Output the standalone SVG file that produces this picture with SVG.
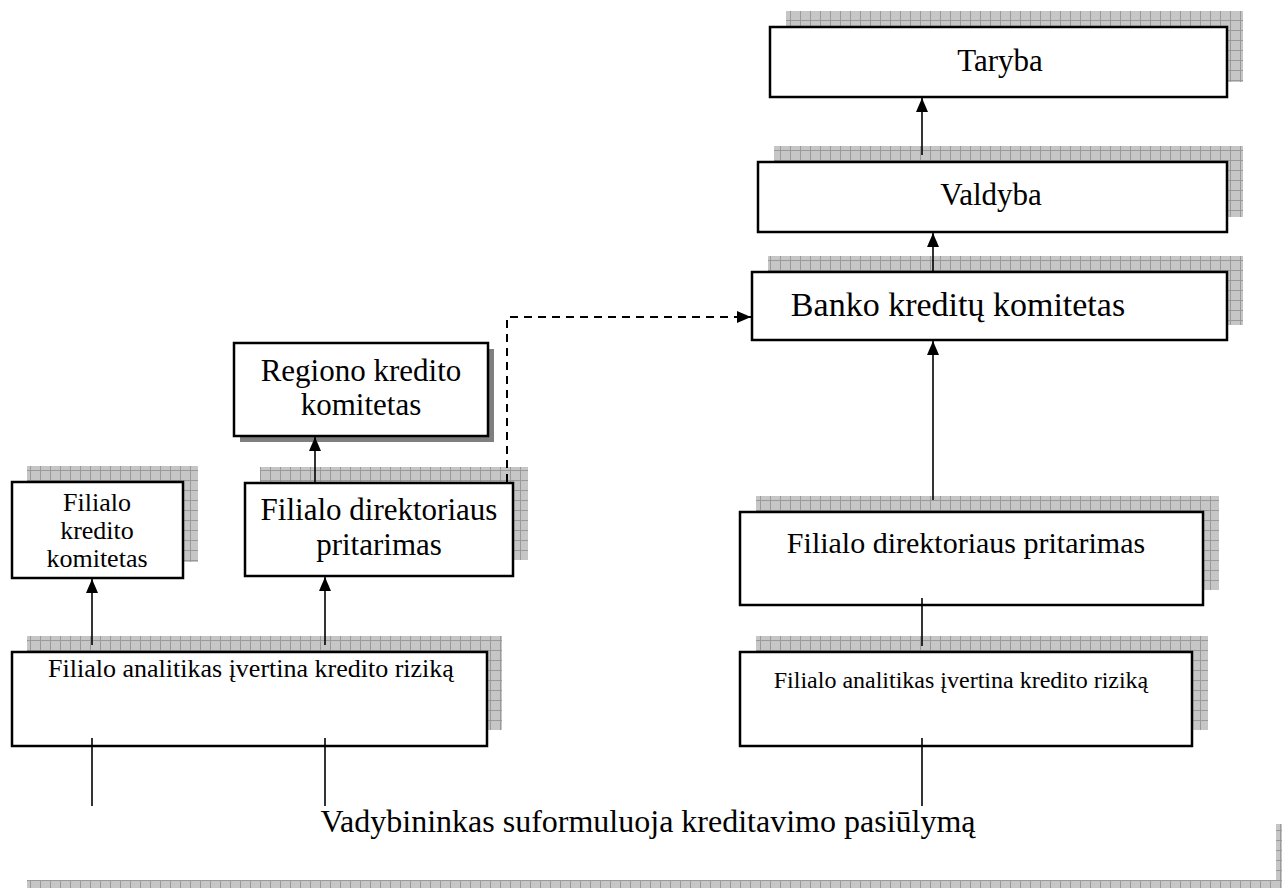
<svg xmlns="http://www.w3.org/2000/svg" width="1282" height="888" viewBox="0 0 1282 888">
  <style>
    .box { fill: #ffffff; stroke: #000000; stroke-width: 2.5; }
    .shadow { fill: url(#grid); }
    .solid-shadow { fill: #7f7f7f; }
    .lbl { font-family: "Liberation Serif", "Times New Roman", serif; fill: #000000; text-anchor: middle; }
    .big { font-size: 31px; }
    .small { font-size: 25px; }
    .line { stroke: #000000; stroke-width: 1.6; fill: none; }
    .arrow { stroke: #000000; stroke-width: 1.6; fill: none; marker-end: url(#ah); }
    .dash { stroke: #000000; stroke-width: 2; fill: none; stroke-dasharray: 8 6; marker-end: url(#ah); }
  </style>
  <defs>
    <!-- hatched grid fill used for the offset shadows -->
    <pattern id="grid" width="10" height="10" patternUnits="userSpaceOnUse">
      <rect width="10" height="10" fill="#c6c6c6"/>
      <path d="M0,0.5 H10 M0.5,0 V10" stroke="#9a9a9a" stroke-width="1"/>
    </pattern>
    <marker id="ah" viewBox="0 0 14 12" refX="14" refY="6" markerWidth="14" markerHeight="12" orient="auto" markerUnits="userSpaceOnUse">
      <path d="M0,0 L14,6 L0,12 Z" fill="#000000"/>
    </marker>
  </defs>

  <rect width="1282" height="888" fill="#ffffff"/>

  <g id="taryba">
    <rect class="shadow" x="786" y="11" width="457" height="71"/>
    <rect class="box" x="770" y="27" width="457" height="70"/>
    <text class="lbl big" x="1000" y="71">Taryba</text>
  </g>

  <g id="valdyba">
    <rect class="shadow" x="774" y="146" width="469" height="71"/>
    <rect class="box" x="758" y="162" width="469" height="70"/>
    <text class="lbl big" x="991" y="205">Valdyba</text>
  </g>

  <g id="banko-komitetas">
    <rect class="shadow" x="768" y="256" width="475" height="69"/>
    <rect class="box" x="752" y="272" width="475" height="68"/>
    <text class="lbl" style="font-size:34px" x="958" y="316">Banko kreditų komitetas</text>
  </g>

  <g id="regiono-komitetas">
    <rect class="solid-shadow" x="240" y="349" width="254" height="93"/>
    <rect class="box" x="234" y="343" width="254" height="93"/>
    <text class="lbl big" x="361" y="381">Regiono kredito</text>
    <text class="lbl big" x="361" y="415">komitetas</text>
  </g>

  <g id="filialo-komitetas">
    <rect class="shadow" x="27" y="466" width="171" height="96"/>
    <rect class="box" x="12" y="482" width="171" height="96"/>
    <text class="lbl" style="font-size:26px" x="97" y="511">Filialo</text>
    <text class="lbl" style="font-size:26px" x="97" y="539">kredito</text>
    <text class="lbl" style="font-size:26px" x="97" y="567">komitetas</text>
  </g>

  <g id="direktorius-kaire">
    <rect class="shadow" x="260" y="467" width="268" height="93"/>
    <rect class="box" x="245" y="483" width="268" height="93"/>
    <text class="lbl big" x="379" y="520">Filialo direktoriaus</text>
    <text class="lbl big" x="379" y="555">pritarimas</text>
  </g>

  <g id="analitikas-kaire">
    <rect class="shadow" x="27" y="636" width="475" height="94"/>
    <rect class="box" x="12" y="652" width="475" height="94"/>
    <text class="lbl" style="font-size:26px" x="251" y="677">Filialo analitikas įvertina kredito riziką</text>
  </g>

  <g id="direktorius-desine">
    <rect class="shadow" x="756" y="496" width="463" height="94"/>
    <rect class="box" x="740" y="512" width="463" height="93"/>
    <text class="lbl" style="font-size:30px" x="966" y="553">Filialo direktoriaus pritarimas</text>
  </g>

  <g id="analitikas-desine">
    <rect class="shadow" x="756" y="636" width="452" height="94"/>
    <rect class="box" x="740" y="652" width="452" height="94"/>
    <text class="lbl" style="font-size:24px" x="961" y="688">Filialo analitikas įvertina kredito riziką</text>
  </g>

  <g id="vadybininkas">
    <rect class="shadow" x="27" y="880" width="1255" height="8"/>
    <rect class="shadow" x="1276" y="824" width="6" height="64"/>
    <text class="lbl" style="font-size:32px" x="648" y="832">Vadybininkas suformuluoja kreditavimo pasiūlymą</text>
  </g>

  <g id="connectors">
    <!-- left branch -->
    <line class="line" x1="92" y1="738" x2="92" y2="806"/>
    <line class="line" x1="325" y1="738" x2="325" y2="806"/>
    <line class="arrow" x1="92" y1="645" x2="92" y2="579"/>
    <line class="arrow" x1="325" y1="645" x2="325" y2="577"/>
    <line class="arrow" x1="315" y1="483" x2="315" y2="437"/>
    <polyline class="dash" points="507,482 507,317 751,317"/>
    <!-- right branch -->
    <line class="line" x1="922" y1="738" x2="922" y2="806"/>
    <line class="line" x1="922" y1="598" x2="922" y2="646"/>
    <line class="arrow" x1="933" y1="500" x2="933" y2="341"/>
    <line class="arrow" x1="933" y1="272" x2="933" y2="233"/>
    <line class="arrow" x1="922" y1="155" x2="922" y2="98"/>
  </g>
</svg>
